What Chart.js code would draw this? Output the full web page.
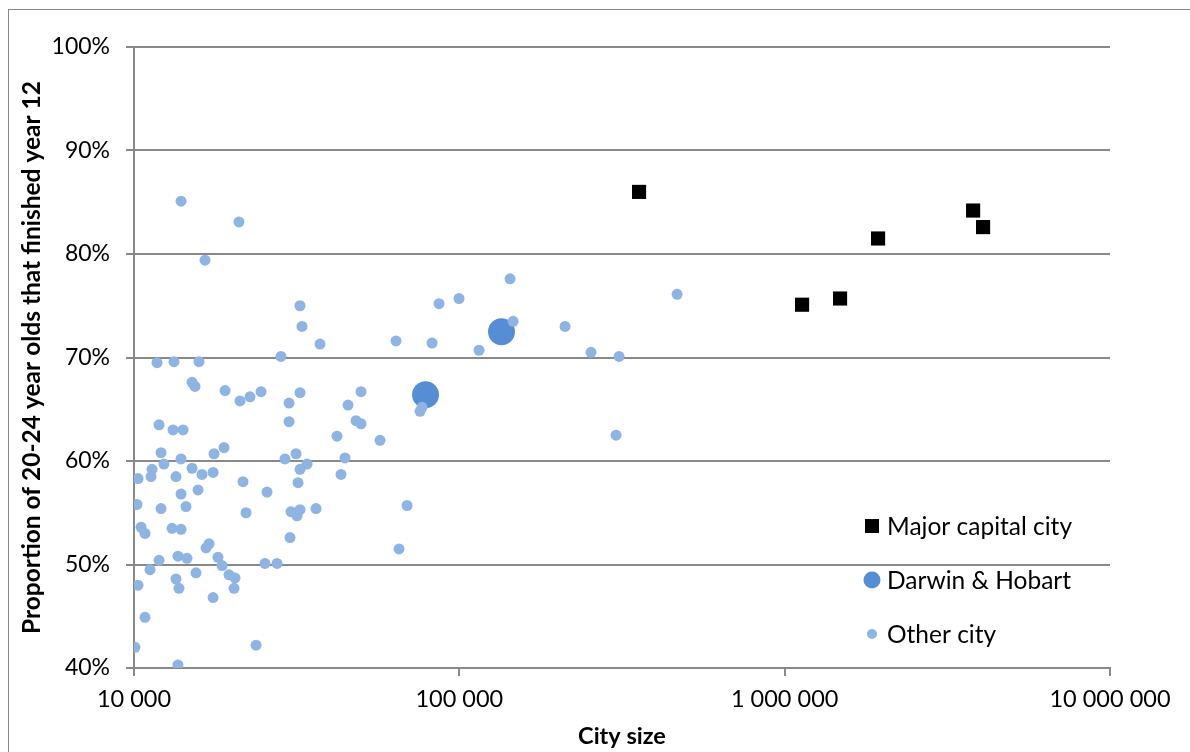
<!DOCTYPE html>
<html lang="en">
<head>
   <meta charset="UTF-8">
   <title>City size vs year 12 completion</title>
   <script src="https://cdn.jsdelivr.net/npm/chart.js@4.4.0/dist/chart.umd.min.js"></script>
   <style>
       body {
           margin: 0;
           background: white;
       }
       #wrap {
           position: relative;
           width: 1190px;
           height: 752px;
           overflow: hidden;
       }
   </style>
</head>
<body>
   <div id="wrap">
       <canvas id="chart" width="1190" height="752"></canvas>
   </div>

   <script>
       // ticks
       const xTicks = [10000, 100000, 1000000, 10000000];
       const xTickLabels = ['10 000', '100 000', '1 000 000', '10 000 000'];
       const yMin = 40;
       const yMax = 100;
       const yStep = 10;

       const seriesNames = ['Major capital city', 'Darwin & Hobart', 'Other city'];

       // major capital cities
       const majorSize = [356800, 1131000, 1480000, 1937000, 3795000, 4073000];
       const majorShare = [86.0, 75.1, 75.7, 81.5, 84.2, 82.6];

       // darwin & hobart
       const dhSize = [78730, 134800];
       const dhShare = [66.4, 72.5];

       // other cities
       const otherSize = [
           13950, 21020, 16530, 32380, 32840, 37310, 28300, 11770, 13270, 15840,
           15080, 15400, 19050, 21180, 22730, 24570, 29960, 32380, 11940, 13180,
           14150, 29960, 12110, 13950, 17620, 18910, 29120, 31480, 34020, 32380,
           11360, 12360, 15080, 16180, 17500, 10290, 11280, 13460, 21630, 31930,
           13950, 15730, 25640, 10210, 12110, 14450, 22100, 30380, 32380, 31700,
           36270, 10510, 10810, 13090, 13950, 30170, 16650, 17010, 18120, 11940,
           13650, 14550, 18650, 25270, 27520, 11200, 15510, 19590, 20440, 10290,
           13460, 13750, 20300, 17500, 10810, 10070, 23720, 13650, 63890, 82450,
           86630, 99790, 49860, 45480, 48140, 49860, 42070, 57050, 75720, 76800,
           44530, 43280, 69070, 65260, 143200, 146300, 114970, 211300, 254000, 309700,
           467000, 303200
       ];
       const otherShare = [
           85.1, 83.1, 79.4, 75.0, 73.0, 71.3, 70.1, 69.5, 69.6, 69.6,
           67.6, 67.2, 66.8, 65.8, 66.2, 66.7, 65.6, 66.6, 63.5, 63.0,
           63.0, 63.8, 60.8, 60.2, 60.7, 61.3, 60.2, 60.7, 59.7, 59.2,
           59.2, 59.7, 59.3, 58.7, 58.9, 58.3, 58.5, 58.5, 58.0, 57.9,
           56.8, 57.2, 57.0, 55.8, 55.4, 55.6, 55.0, 55.1, 55.3, 54.7,
           55.4, 53.6, 53.0, 53.5, 53.4, 52.6, 51.6, 52.0, 50.7, 50.4,
           50.8, 50.6, 49.9, 50.1, 50.1, 49.5, 49.2, 49.0, 48.7, 48.0,
           48.6, 47.7, 47.7, 46.8, 44.9, 42.0, 42.2, 40.3, 71.6, 71.4,
           75.2, 75.7, 66.7, 65.4, 63.9, 63.6, 62.4, 62.0, 64.8, 65.2,
           60.3, 58.7, 55.7, 51.5, 77.6, 73.5, 70.7, 73.0, 70.5, 70.1,
           76.1, 62.5
       ];

       const gridColor = '#898989';
       const fontFamily = 'Lato, "Open Sans", sans-serif';

       function toPoints(xs, ys) {
           return xs.map((x, i) => ({ x: x, y: ys[i] }));
       }

       // outer frame + legend inside the plot
       const framePlugin = {
           id: 'frame',
           beforeDraw(chart) {
               const ctx = chart.ctx;
               ctx.save();
               ctx.strokeStyle = gridColor;
               ctx.lineWidth = 1;
               ctx.strokeRect(8.5, 9.5, 1300, 900);
               ctx.restore();
           },
           afterDraw(chart) {
               const ctx = chart.ctx;
               const area = chart.chartArea;
               const mx = area.right - 238;
               const tx = mx + 15;
               const rows = [area.bottom - 142, area.bottom - 88, area.bottom - 34];
               ctx.save();
               // square
               ctx.fillStyle = '#000000';
               ctx.fillRect(mx - 7, rows[0] - 7, 14, 14);
               // big dot
               ctx.fillStyle = '#558ED5';
               ctx.beginPath();
               ctx.arc(mx, rows[1], 8.5, 0, Math.PI * 2);
               ctx.fill();
               // small dot
               ctx.fillStyle = '#8DB4E2';
               ctx.beginPath();
               ctx.arc(mx, rows[2], 5, 0, Math.PI * 2);
               ctx.fill();
               ctx.fillStyle = '#000000';
               ctx.font = '24.5px ' + fontFamily;
               ctx.textBaseline = 'middle';
               ctx.textAlign = 'left';
               seriesNames.forEach((name, i) => ctx.fillText(name, tx, rows[i] + 1));
               ctx.restore();
           }
       };

       new Chart(document.getElementById('chart'), {
           type: 'scatter',
           data: {
               datasets: [
                   {
                       label: seriesNames[0],
                       data: toPoints(majorSize, majorShare),
                       pointStyle: 'rect',
                       pointRadius: 10,
                       backgroundColor: '#000000',
                       borderWidth: 0,
                       order: 2
                   },
                   {
                       label: seriesNames[1],
                       data: toPoints(dhSize, dhShare),
                       pointRadius: 13.5,
                       backgroundColor: '#558ED5',
                       borderWidth: 0,
                       order: 1
                   },
                   {
                       label: seriesNames[2],
                       data: toPoints(otherSize, otherShare),
                       pointRadius: 5.5,
                       backgroundColor: '#8DB4E2',
                       borderWidth: 0,
                       order: 0
                   }
               ]
           },
           options: {
               responsive: false,
               animation: false,
               layout: {
                   padding: { top: 47, right: 80, left: 0, bottom: 0 }
               },
               plugins: {
                   legend: { display: false },
                   tooltip: { enabled: false }
               },
               scales: {
                   x: {
                       type: 'logarithmic',
                       min: xTicks[0],
                       max: xTicks[xTicks.length - 1],
                       afterBuildTicks: (scale) => {
                           scale.ticks = xTicks.map(v => ({ value: v }));
                       },
                       afterFit: (scale) => { scale.height = 84; },
                       border: { display: true, color: gridColor, width: 2 },
                       grid: {
                           drawOnChartArea: false,
                           drawTicks: true,
                           tickLength: 8,
                           color: gridColor,
                           lineWidth: 2
                       },
                       ticks: {
                           autoSkip: false,
                           maxRotation: 0,
                           padding: 9,
                           color: '#000000',
                           font: { family: fontFamily, size: 23.5 },
                           callback: (value) => {
                               const i = xTicks.indexOf(value);
                               return i >= 0 ? xTickLabels[i] : '';
                           }
                       },
                       title: {
                           display: true,
                           text: 'City size',
                           color: '#000000',
                           font: { family: fontFamily, size: 23.5, weight: 'bold' },
                           padding: { top: 0, bottom: 1 }
                       }
                   },
                   y: {
                       min: yMin,
                       max: yMax,
                       afterFit: (scale) => { scale.width = 134; },
                       border: { display: true, color: gridColor, width: 2 },
                       grid: {
                           color: gridColor,
                           lineWidth: 2,
                           drawTicks: true,
                           tickLength: 8
                       },
                       ticks: {
                           stepSize: yStep,
                           padding: 16,
                           color: '#000000',
                           font: { family: fontFamily, size: 23 },
                           callback: (value) => value + '%'
                       },
                       title: {
                           display: true,
                           text: 'Proportion of 20-24 year olds that finished year 12',
                           color: '#000000',
                           font: { family: fontFamily, size: 24.5, weight: 'bold' },
                           padding: { top: 17, bottom: 0 }
                       }
                   }
               }
           },
           plugins: [framePlugin]
       });
   </script>
</body>
</html>
